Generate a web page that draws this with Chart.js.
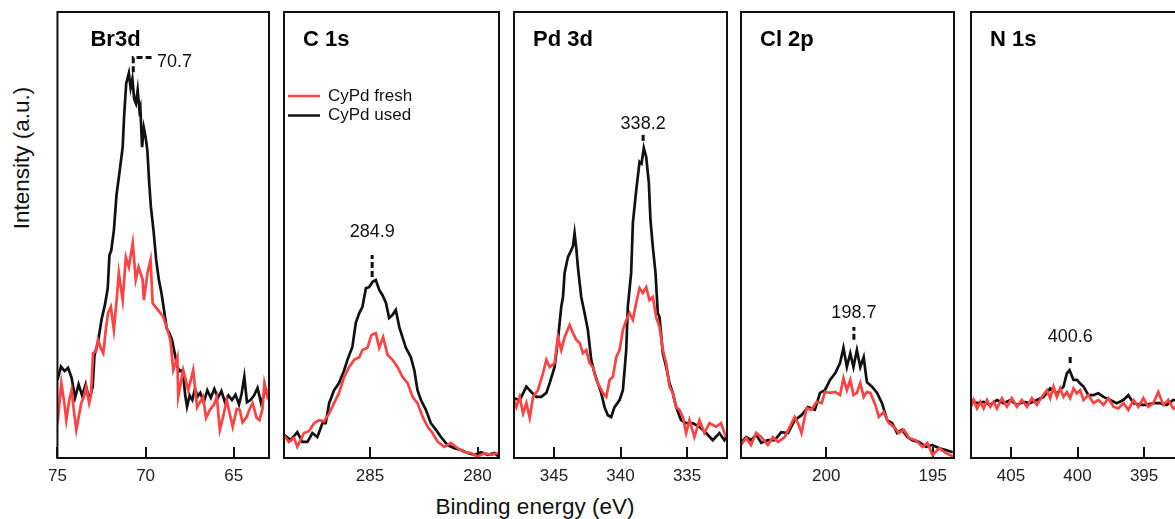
<!DOCTYPE html>
<html>
<head>
<meta charset="utf-8">
<script src="https://cdn.jsdelivr.net/npm/chart.js@4.4.1/dist/chart.umd.min.js"></script>
<style>
  html, body { margin: 0; padding: 0; background: #fff; overflow: hidden; }
  body { width: 1175px; height: 519px; position: relative; font-family: 'Liberation Sans', Arial, sans-serif; }
  canvas { position: absolute; }
  .axis-title { position: absolute; font-size: 22.5px; color: #111; white-space: nowrap; }
  #ytitle { left: 22px; top: 158px; transform: translate(-50%, -50%) rotate(-90deg); }
  #xtitle { left: 535px; top: 507px; transform: translate(-50%, -50%); }
</style>
</head>
<body>
<div class="axis-title" id="ytitle">Intensity (a.u.)</div>
<div class="axis-title" id="xtitle">Binding energy (eV)</div>
<script>
// Br 3d
const br_ticks = [75, 70, 65];
const br_used_e = [75.0, 74.8, 74.6, 74.4, 74.2, 74.0, 73.8, 73.6, 73.4, 73.2, 73.0, 72.9, 72.7, 72.5, 72.3, 72.15, 72.05, 71.95, 71.8, 71.65, 71.55, 71.45, 71.3, 71.22, 71.1, 70.95, 70.85, 70.75, 70.65, 70.55, 70.45, 70.35, 70.3, 70.2, 70.1, 70.0, 69.9, 69.8, 69.7, 69.55, 69.4, 69.25, 69.1, 68.95, 68.8, 68.65, 68.5, 68.35, 68.2, 68.05, 67.9, 67.75, 67.65, 67.5, 67.35, 67.2, 67.05, 66.9, 66.7, 66.5, 66.3, 66.1, 65.9, 65.7, 65.5, 65.3, 65.1, 64.9, 64.7, 64.55, 64.4, 64.25, 64.05, 63.85, 63.65, 63.45, 63.25, 63.05];
const br_used = [17.5, 20.5, 19.5, 20.2, 18, 13.5, 16.5, 14, 16.5, 13, 16, 23, 26, 31, 34.5, 38, 45.5, 46.5, 51, 59, 62, 65, 69.7, 76.5, 84, 86.3, 83, 85, 80.5, 79.5, 82.5, 78, 78.7, 69.7, 74, 72, 69, 62, 56.3, 51, 44.4, 40, 37, 33, 29, 28, 26.5, 23.5, 20.4, 19.5, 19.7, 14, 11.5, 14, 13, 15.5, 13.8, 14.6, 12.5, 15.2, 13.5, 15.5, 13.5, 15, 12.5, 14, 13, 14.2, 12, 14.5, 18.2, 12.5, 13, 14, 15.7, 12.3, 14.6, 15];
const br_fresh_e = [75.0, 74.94, 74.78, 74.6, 74.5, 74.33, 74.2, 74.05, 73.93, 73.76, 73.65, 73.48, 73.37, 73.2, 73.1, 72.98, 72.8, 72.7, 72.53, 72.4, 72.25, 72.13, 71.97, 71.8, 71.63, 71.52, 71.3, 71.12, 70.95, 70.73, 70.56, 70.4, 70.17, 70.1, 69.89, 69.72, 69.6, 69.44, 69.16, 68.99, 68.76, 68.6, 68.43, 68.2, 68.15, 67.87, 67.58, 67.3, 67.08, 66.74, 66.57, 66.35, 66.12, 65.96, 65.79, 65.56, 65.4, 65.06, 64.83, 64.66, 64.5, 64.27, 64.1, 63.93, 63.7, 63.54, 63.37, 63.26, 63.1, 63.0];
const br_fresh = [12, 10, 16.8, 12, 8.5, 13, 15.2, 10, 6.3, 10, 12.3, 14, 16, 12.3, 14, 23.5, 24, 26.5, 24.5, 23.5, 29, 32.5, 33.9, 28.7, 36, 41.5, 35.4, 45, 42.8, 48.2, 40, 42.8, 40, 35.4, 41.5, 44.4, 34.7, 33.9, 32.5, 31.6, 28.7, 26.5, 19.7, 22.6, 13.7, 19.7, 15.2, 19.7, 11.4, 13.7, 9, 10.8, 12, 13.7, 6.3, 10, 13, 7, 11, 10.8, 8, 9.2, 11, 12.3, 9, 8.5, 11, 16.8, 14, 15.5];

// C 1s
const c_ticks = [285, 280];
const c_used_e = [289.0, 288.69, 288.38, 288.15, 287.91, 287.68, 287.45, 287.21, 287.06, 286.9, 286.67, 286.44, 286.2, 286.05, 285.82, 285.66, 285.5, 285.35, 285.19, 285.04, 284.88, 284.73, 284.57, 284.42, 284.26, 284.11, 283.95, 283.8, 283.64, 283.49, 283.33, 283.1, 282.94, 282.79, 282.63, 282.4, 282.17, 281.93, 281.7, 281.39, 281.08, 280.77, 280.46, 280.15, 279.84, 279.52, 279.21, 278.98];
const c_used = [5.2, 4, 5.8, 3.6, 3.6, 5.6, 4.7, 7.8, 7.8, 12.3, 15.2, 16.8, 19.7, 22, 24.9, 30.3, 32.5, 33.9, 38.1, 38.3, 39.5, 39.9, 37.7, 36.5, 34.8, 31.4, 32.1, 33.2, 29.4, 27.1, 24.7, 22.6, 19.7, 15.2, 13, 10.8, 7.8, 6.3, 4.7, 2.9, 2.2, 1.8, 1.1, 0.7, 1.3, 0.7, 1.1, 0.2];
const c_fresh_e = [289.0, 288.77, 288.53, 288.38, 288.07, 287.84, 287.6, 287.37, 287.14, 286.9, 286.67, 286.44, 286.2, 285.97, 285.74, 285.5, 285.35, 285.12, 284.93, 284.73, 284.57, 284.39, 284.18, 283.95, 283.72, 283.49, 283.25, 283.02, 282.79, 282.55, 282.32, 282.09, 281.85, 281.54, 281.23, 280.92, 280.61, 280.3, 279.99, 279.68, 279.37, 279.06];
const c_fresh = [5, 3.6, 4.5, 2.5, 5.6, 6, 7.8, 8.5, 8.2, 10, 12.3, 14.6, 18.2, 20.4, 22, 22.6, 24.2, 24.7, 27.6, 28, 24.7, 27.1, 23.1, 22, 20.4, 18.2, 16.8, 13.7, 12.3, 9.2, 7, 5.6, 3.6, 2.5, 3.4, 2.2, 1.3, 1.1, 0.3, 1.1, 0.7, 1.1];

// Pd 3d
const pd_ticks = [345, 340, 335];
const pd_used_e = [348.0, 347.57, 347.07, 346.7, 346.32, 345.95, 345.57, 345.32, 344.95, 344.7, 344.45, 344.32, 344.2, 343.95, 343.7, 343.57, 343.45, 343.32, 343.2, 342.95, 342.7, 342.45, 342.2, 341.95, 341.7, 341.45, 341.2, 340.95, 340.7, 340.45, 340.07, 339.82, 339.57, 339.45, 339.2, 339.07, 338.82, 338.57, 338.42, 338.25, 338.07, 337.87, 337.75, 337.57, 337.37, 337.2, 337.07, 336.82, 336.57, 336.32, 336.07, 335.82, 335.45, 335.07, 334.57, 334.07, 333.57, 333.07, 332.57, 332.2, 332.0];
const pd_used = [13.4, 13, 16, 14.8, 13.7, 13.7, 14.6, 16.8, 20.4, 26.5, 33.9, 36.1, 41.5, 45, 46.6, 47.5, 50.4, 47, 42.8, 36.1, 32.5, 28.7, 22, 19, 16.8, 14.6, 11.4, 9.6, 9.2, 11.4, 13, 15.2, 24.2, 33.9, 41.5, 52.7, 60, 66.4, 66, 69.5, 67.5, 61.7, 53.4, 47.3, 41.5, 32.5, 31.6, 23.5, 20.4, 16.8, 14.6, 11.4, 8.5, 7.8, 7.8, 7, 5.6, 4, 5.6, 4, 5];
const pd_fresh_e = [348.0, 347.82, 347.57, 347.32, 347.07, 346.82, 346.57, 346.2, 345.82, 345.57, 345.32, 344.95, 344.7, 344.45, 344.2, 343.82, 343.57, 343.32, 343.07, 342.82, 342.57, 342.32, 342.07, 341.82, 341.57, 341.32, 341.07, 340.82, 340.57, 340.32, 340.07, 339.82, 339.57, 339.32, 339.07, 338.82, 338.57, 338.32, 338.07, 337.82, 337.57, 337.32, 337.07, 336.82, 336.57, 336.32, 336.07, 335.82, 335.57, 335.32, 335.07, 334.82, 334.45, 334.07, 333.7, 333.32, 332.82, 332.45, 332.07];
const pd_fresh = [13, 11.4, 13.7, 10, 12.3, 9, 13.7, 15.2, 19, 22, 20.4, 21.3, 27.1, 24.2, 27.1, 29.8, 28, 26.5, 25.8, 23.5, 24.2, 21.3, 20.4, 17.5, 16, 14.6, 13.7, 17.5, 18.2, 22.6, 24.2, 28.7, 30.9, 32.5, 31, 34.8, 38.1, 37, 38.3, 35.4, 36.1, 31.6, 29.4, 24.2, 21.3, 16, 14.6, 11.4, 10.8, 9.2, 5.6, 8.5, 4.7, 8.5, 5.6, 7.8, 7, 7.8, 4.7];

// Cl 2p
const cl_ticks = [200, 195];
const cl_used_e = [204.0, 203.76, 203.53, 203.29, 203.05, 202.74, 202.42, 202.11, 201.79, 201.48, 201.16, 200.85, 200.53, 200.29, 200.06, 199.82, 199.58, 199.35, 199.19, 199.03, 198.87, 198.72, 198.56, 198.4, 198.24, 198.09, 197.85, 197.61, 197.38, 197.14, 196.9, 196.67, 196.43, 196.19, 195.96, 195.64, 195.32, 195.01, 194.69, 194.38, 194.06];
const cl_used = [3.4, 4.7, 4, 5.2, 3.4, 4, 4, 5.8, 5.6, 8.5, 9.6, 11.4, 10.8, 14.6, 15.2, 17.5, 19, 21.3, 24.7, 20.4, 23.5, 20.4, 24.2, 20.4, 22.6, 17, 16, 14.6, 12.3, 8.5, 7.8, 5.6, 6.3, 4.7, 4, 3.6, 2.5, 2.9, 2.2, 1.8, 1.3];
const cl_fresh_e = [204.0, 203.76, 203.53, 203.29, 203.05, 202.74, 202.5, 202.26, 201.95, 201.71, 201.48, 201.32, 201.16, 200.92, 200.69, 200.45, 200.21, 200.06, 199.82, 199.58, 199.35, 199.19, 199.03, 198.87, 198.72, 198.56, 198.4, 198.24, 198.09, 197.93, 197.69, 197.53, 197.3, 197.06, 196.82, 196.59, 196.35, 196.11, 195.8, 195.48, 195.25, 195.01, 194.69, 194.38, 193.98];
const cl_fresh = [2.9, 4.5, 2.9, 5.6, 4.7, 2.9, 4.7, 3.6, 4.7, 7, 9.2, 7.8, 5.6, 11.2, 10.8, 12.6, 12.3, 14.8, 14.6, 14.8, 14.1, 17.9, 15.2, 17.5, 14.1, 14.6, 16.8, 13.7, 14.8, 14.6, 11.9, 9.2, 10.3, 7.8, 7, 5.6, 6.3, 4.5, 4, 2.5, 3.4, 0.7, 2.2, 1.1, 0.2];

// N 1s
const n_ticks = [405, 400, 395];
const n_used_e = [408.0, 407.55, 407.05, 406.55, 406.05, 405.55, 405.05, 404.55, 404.05, 403.55, 403.05, 402.55, 402.05, 401.55, 401.05, 400.8, 400.6, 400.3, 400.05, 399.8, 399.55, 399.18, 398.8, 398.43, 398.05, 397.55, 397.05, 396.55, 396.18, 395.8, 395.3, 394.8, 394.3, 393.8, 393.3, 392.8, 392.0];
const n_used = [13, 12.3, 12.6, 11.9, 13, 12.3, 13, 11.9, 12.6, 12.3, 13, 13.7, 15.6, 14.5, 16, 19, 19.7, 17.5, 17.5, 16.7, 16, 14.1, 14.1, 14.5, 13.7, 13, 12.3, 13, 14.1, 12.3, 11.9, 11.9, 12.3, 12.3, 11.9, 13, 12.5];
const n_fresh_e = [408.0, 407.8, 407.55, 407.3, 407.05, 406.8, 406.55, 406.3, 406.05, 405.68, 405.3, 404.93, 404.55, 404.18, 403.8, 403.43, 403.05, 402.68, 402.3, 402.05, 401.8, 401.55, 401.3, 401.05, 400.8, 400.55, 400.3, 400.05, 399.8, 399.55, 399.18, 398.8, 398.43, 398.05, 397.68, 397.3, 396.93, 396.55, 396.18, 395.8, 395.43, 395.05, 394.68, 394.3, 393.93, 393.55, 393.18, 392.8, 392.0];
const n_fresh = [11.5, 13, 11.1, 12.6, 11.1, 13, 11.5, 12.6, 11.1, 13.4, 11.5, 13.4, 11.5, 13, 11.5, 13.4, 11.9, 13.7, 15.2, 13.4, 16, 13.7, 15.6, 13.7, 14.8, 13.4, 15.6, 14.5, 15.2, 13, 14.1, 12.3, 13, 11.9, 13.4, 11.5, 11.1, 12.3, 10.8, 13, 11.5, 13.4, 11.5, 12.3, 14.8, 11.9, 13, 11.1, 12];

const series_names = ['CyPd fresh', 'CyPd used'];
const series_colors = ['#ff4242', '#111111'];

const FONT = '"Liberation Sans", Arial, sans-serif';
const PAD = 16, TOP_PAD = 4;
const AREA_TOP = 12, AREA_BOTTOM = 458, AXIS_H = 32;

const panels = [
  { title: 'Br3d', min: 63, max: 75, ticks: br_ticks, left: 56, right: 269, titleDx: 33,
    used_e: br_used_e, used: br_used, fresh_e: br_fresh_e, fresh: br_fresh,
    peak: { e: 70.7, label: '70.7', lo: 86.5, hi: 89.8, elbowE: 69.55, textE: 69.35, textV: 88.8 } },
  { title: 'C 1s', min: 279, max: 289, ticks: c_ticks, left: 284, right: 499, titleDx: 19, legend: true,
    used_e: c_used_e, used: c_used, fresh_e: c_fresh_e, fresh: c_fresh,
    peak: { e: 284.9, label: '284.9', lo: 40.6, hi: 45.5, textV: 50.7 } },
  { title: 'Pd 3d', min: 332, max: 348, ticks: pd_ticks, left: 514, right: 727, titleDx: 19,
    used_e: pd_used_e, used: pd_used, fresh_e: pd_fresh_e, fresh: pd_fresh,
    peak: { e: 338.3, label: '338.2', lo: 71.1, hi: 72.9, textV: 74.9 } },
  { title: 'Cl 2p', min: 194, max: 204, ticks: cl_ticks, left: 741, right: 954, titleDx: 19,
    used_e: cl_used_e, used: cl_used, fresh_e: cl_fresh_e, fresh: cl_fresh,
    peak: { e: 198.7, label: '198.7', lo: 26.5, hi: 29.4, textV: 32.5 } },
  { title: 'N 1s', min: 392, max: 408, ticks: n_ticks, left: 971, right: 1184, titleDx: 19,
    used_e: n_used_e, used: n_used, fresh_e: n_fresh_e, fresh: n_fresh,
    peak: { e: 400.55, label: '400.6', lo: 21.3, hi: 23.1, textV: 27.1 } },
];

const framePlugin = {
  id: 'frame',
  beforeDatasetsDraw(chart) {
    // inward tick marks, behind the curves
    const xs = chart.scales.x, a = chart.chartArea, ctx = chart.ctx;
    ctx.save();
    ctx.strokeStyle = '#111';
    ctx.lineWidth = 2;
    xs.ticks.forEach((t) => {
      const px = Math.round(xs.getPixelForValue(t.value));
      ctx.beginPath();
      ctx.moveTo(px, a.bottom);
      ctx.lineTo(px, a.bottom - 11);
      ctx.stroke();
    });
    ctx.restore();
  },
  afterDatasetsDraw(chart, args, opts) {
    const xs = chart.scales.x, ys = chart.scales.y, a = chart.chartArea, ctx = chart.ctx;
    ctx.save();
    ctx.strokeStyle = '#111';
    ctx.lineWidth = 2;
    ctx.strokeRect(a.left, a.top, a.right - a.left, a.bottom - a.top);

    ctx.fillStyle = '#000';
    ctx.font = 'bold 22px ' + FONT;
    ctx.textBaseline = 'alphabetic';
    ctx.textAlign = 'left';
    ctx.fillText(opts.title, a.left + opts.titleDx, a.top + 34);

    // peak marker
    const p = opts.peak;
    const px = xs.getPixelForValue(p.e);
    ctx.lineWidth = 3;
    ctx.setLineDash([6, 3]);
    ctx.beginPath();
    ctx.moveTo(px, ys.getPixelForValue(p.lo));
    ctx.lineTo(px, ys.getPixelForValue(p.hi));
    if (p.elbowE) ctx.lineTo(xs.getPixelForValue(p.elbowE), ys.getPixelForValue(p.hi));
    ctx.stroke();
    ctx.setLineDash([]);
    ctx.font = '18px ' + FONT;
    ctx.fillStyle = '#111';
    ctx.textBaseline = 'middle';
    if (p.textE) {
      ctx.textAlign = 'left';
      ctx.fillText(p.label, xs.getPixelForValue(p.textE), ys.getPixelForValue(p.textV));
    } else {
      ctx.textAlign = 'center';
      ctx.fillText(p.label, px, ys.getPixelForValue(p.textV));
    }

    if (opts.legend) {
      ctx.font = '17px ' + FONT;
      ctx.textAlign = 'left';
      ctx.lineWidth = 2.5;
      chart.data.datasets.forEach((ds, i) => {
        const y = a.top + 84 + i * 19.5;
        ctx.strokeStyle = ds.borderColor;
        ctx.beginPath();
        ctx.moveTo(a.left + 4, y);
        ctx.lineTo(a.left + 36, y);
        ctx.stroke();
        ctx.fillStyle = '#111';
        ctx.fillText(ds.label, a.left + 44, y);
      });
    }
    ctx.restore();
  },
};

function toPoints(es, vs) {
  return es.map((e, i) => ({ x: e, y: vs[i] }));
}

panels.forEach((p) => {
  const canvas = document.createElement('canvas');
  const w = p.right - p.left + 2 * PAD;
  const h = TOP_PAD + (AREA_BOTTOM - AREA_TOP) + AXIS_H;
  canvas.width = w;
  canvas.height = h;
  canvas.style.left = (p.left - PAD) + 'px';
  canvas.style.top = (AREA_TOP - TOP_PAD) + 'px';
  canvas.style.width = w + 'px';
  canvas.style.height = h + 'px';
  document.body.appendChild(canvas);

  new Chart(canvas.getContext('2d'), {
    type: 'line',
    data: {
      datasets: [
        { label: series_names[0], data: toPoints(p.fresh_e, p.fresh), borderColor: series_colors[0],
          borderWidth: 2.7, pointRadius: 0, tension: 0 },
        { label: series_names[1], data: toPoints(p.used_e, p.used), borderColor: series_colors[1],
          borderWidth: 2.7, pointRadius: 0, tension: 0 },
      ],
    },
    options: {
      responsive: false,
      animation: false,
      events: [],
      layout: { padding: { left: PAD, right: PAD, top: TOP_PAD, bottom: 0 } },
      scales: {
        x: {
          type: 'linear', reverse: true, min: p.min, max: p.max,
          grid: { display: false, drawTicks: false },
          border: { display: false },
          ticks: { padding: 8, color: '#222', autoSkip: false, maxRotation: 0,
            font: { size: 17, family: FONT } },
          afterBuildTicks(s) { s.ticks = p.ticks.map((v) => ({ value: v })); },
          afterFit(s) { s.height = AXIS_H; },
        },
        y: { display: false, min: 0, max: 100 },
      },
      plugins: {
        legend: { display: false },
        tooltip: { enabled: false },
        frame: { title: p.title, titleDx: p.titleDx, peak: p.peak, legend: !!p.legend },
      },
    },
    plugins: [framePlugin],
  });
});
</script>
</body>
</html>
